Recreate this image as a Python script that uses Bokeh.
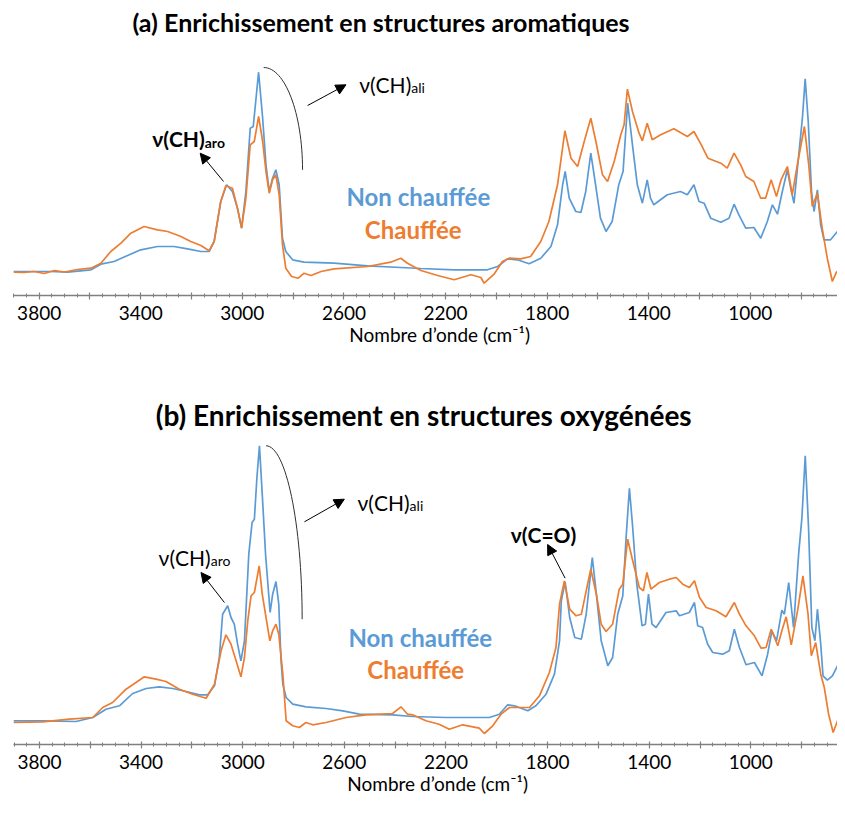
from bokeh.plotting import figure
from bokeh.layouts import column
from bokeh.models import Range1d, FixedTicker, Arrow, NormalHead
from bokeh.core.properties import value
from bokeh.embed import file_html
from bokeh.resources import INLINE

BLUE = "#5B9BD5"
ORANGE = "#ED7D31"
FONT = "Lato"

# ---------------- data: panel (a) ----------------
wn_a_blue = [3901, 3820, 3754, 3688, 3596, 3557, 3505, 3452, 3400, 3334, 3269, 3216, 3163, 3131, 3111, 3085,
             3062, 3039, 3019, 3003, 2986, 2969, 2957, 2936, 2920, 2907, 2894, 2881, 2868, 2855, 2842, 2829,
             2802, 2757, 2639, 2507, 2376, 2297, 2166, 2035, 1995, 1956, 1917, 1871, 1825, 1785, 1759, 1739,
             1729, 1713, 1687, 1667, 1648, 1628, 1615, 1590, 1568, 1544, 1518, 1501, 1483, 1464, 1445, 1425,
             1406, 1393, 1380, 1327, 1275, 1248, 1222, 1202, 1182, 1156, 1116, 1084, 1064, 1045, 1018, 986,
             959, 933, 913, 893, 874, 854, 841, 828, 808, 795, 784, 772, 759, 749, 736, 723, 710, 684, 657, 644]
abs_a_blue = [0.24, 0.24, 0.24, 0.233, 0.257, 0.313, 0.34, 0.40, 0.457, 0.49, 0.49, 0.467, 0.44, 0.44, 0.54, 0.94,
              1.107, 1.04, 0.87, 0.673, 1.04, 1.673, 1.69, 2.233, 1.773, 1.307, 1.04, 1.173, 1.257, 1.107, 0.573, 0.44,
              0.357, 0.333, 0.323, 0.297, 0.28, 0.27, 0.257, 0.257, 0.29, 0.367, 0.357, 0.317, 0.373, 0.49, 0.707, 1.107,
              1.24, 0.973, 0.84, 0.83, 1.04, 1.423, 1.207, 0.773, 0.64, 0.74, 1.107, 1.24, 1.923, 1.507, 1.107, 0.923,
              1.157, 0.973, 0.907, 1.007, 1.04, 1.007, 1.107, 0.94, 0.923, 0.773, 0.733, 0.773, 0.913, 0.807, 0.673, 0.68,
              0.573, 0.74, 0.907, 0.813, 1.04, 1.257, 1.073, 0.923, 1.44, 1.773, 2.167, 1.74, 1.04, 0.84, 1.057, 0.707,
              0.557, 0.557, 0.64, 0.557]

wn_a_orange = [3901, 3860, 3820, 3780, 3740, 3700, 3650, 3596, 3557, 3518, 3478, 3439, 3387, 3334, 3294, 3242,
               3203, 3163, 3131, 3111, 3085, 3065, 3039, 3019, 3003, 2986, 2969, 2953, 2936, 2920, 2907, 2894,
               2881, 2868, 2855, 2842, 2829, 2806, 2780, 2757, 2730, 2690, 2639, 2507, 2416, 2376, 2350, 2297,
               2231, 2166, 2100, 2061, 2048, 2009, 1976, 1950, 1904, 1865, 1825, 1793, 1759, 1730, 1706, 1680,
               1654, 1628, 1608, 1582, 1562, 1536, 1510, 1497, 1484, 1464, 1438, 1425, 1406, 1386, 1353, 1301,
               1248, 1222, 1193, 1167, 1116, 1091, 1064, 1038, 1018, 986, 959, 940, 918, 897, 879, 854,
               835, 815, 787, 770, 756, 736, 717, 697, 677, 660, 644]
abs_a_orange = [0.233, 0.23, 0.24, 0.22, 0.25, 0.235, 0.26, 0.273, 0.323, 0.44, 0.523, 0.623, 0.69, 0.657, 0.64, 0.59,
                0.54, 0.50, 0.447, 0.54, 0.94, 1.097, 1.073, 0.87, 0.673, 0.973, 1.507, 1.54, 1.79, 1.54, 1.24, 1.023,
                1.157, 1.207, 1.007, 0.507, 0.273, 0.19, 0.173, 0.223, 0.20, 0.24, 0.267, 0.29, 0.333, 0.373, 0.323, 0.25,
                0.20, 0.157, 0.207, 0.18, 0.123, 0.213, 0.34, 0.373, 0.367, 0.39, 0.54, 0.74, 1.107, 1.647, 1.373, 1.29,
                1.54, 1.773, 1.54, 1.207, 1.14, 1.34, 1.607, 1.707, 2.063, 1.84, 1.623, 1.547, 1.723, 1.557, 1.607, 1.667,
                1.59, 1.64, 1.507, 1.373, 1.323, 1.273, 1.423, 1.307, 1.19, 1.14, 0.973, 0.973, 1.157, 0.99, 1.157, 1.29,
                1.007, 1.307, 1.69, 1.307, 0.89, 1.023, 0.673, 0.373, 0.14, 0.24, 0.173]

# ---------------- data: panel (b) ----------------
wn_b_blue = [3902, 3787, 3656, 3590, 3538, 3485, 3433, 3380, 3328, 3275, 3223, 3170, 3138, 3111, 3092, 3079,
             3059, 3046, 3033, 3020, 3007, 2993, 2976, 2963, 2954, 2944, 2934, 2923, 2910, 2892, 2882, 2869,
             2858, 2849, 2842, 2829, 2803, 2751, 2672, 2606, 2541, 2410, 2331, 2200, 2029, 1990, 1957, 1930,
             1878, 1846, 1806, 1773, 1753, 1746, 1731, 1713, 1693, 1667, 1648, 1624, 1608, 1589, 1563, 1544,
             1524, 1504, 1491, 1478, 1465, 1449, 1428, 1415, 1403, 1389, 1373, 1334, 1294, 1281, 1242, 1222,
             1209, 1190, 1170, 1150, 1111, 1085, 1065, 1045, 1019, 986, 956, 934, 917, 899, 878, 868,
             851, 832, 812, 799, 786, 773, 760, 748, 738, 725, 716, 699, 679, 659]
abs_b_blue = [0.237, 0.237, 0.23, 0.27, 0.353, 0.387, 0.51, 0.56, 0.577, 0.56, 0.53, 0.497, 0.497, 0.587, 0.87, 1.303,
              1.387, 1.27, 1.203, 1.003, 0.837, 1.037, 1.903, 2.22, 2.253, 2.67, 2.987, 2.503, 1.903, 1.32, 1.503, 1.63,
              1.403, 0.837, 0.603, 0.47, 0.403, 0.377, 0.36, 0.337, 0.303, 0.297, 0.28, 0.27, 0.27, 0.303, 0.397, 0.387,
              0.337, 0.387, 0.503, 0.703, 1.037, 1.437, 1.627, 1.27, 1.07, 1.053, 1.303, 1.87, 1.503, 1.037, 0.787, 0.87,
              1.303, 1.487, 2.07, 2.563, 2.17, 1.603, 1.187, 1.203, 1.503, 1.203, 1.17, 1.32, 1.337, 1.287, 1.32, 1.42,
              1.187, 1.17, 1.003, 0.92, 0.903, 0.937, 1.153, 0.97, 0.797, 0.82, 0.687, 0.903, 1.137, 1.037, 1.343, 1.303,
              1.62, 1.17, 1.903, 2.27, 2.887, 2.17, 1.17, 1.037, 1.353, 1.003, 0.687, 0.643, 0.687, 0.787]

wn_b_orange = [3902, 3787, 3682, 3590, 3551, 3512, 3459, 3420, 3387, 3341, 3302, 3249, 3197, 3144, 3111, 3085,
               3066, 3046, 3026, 3007, 2993, 2980, 2967, 2954, 2935, 2923, 2906, 2893, 2882, 2869, 2858, 2842,
               2829, 2803, 2777, 2751, 2724, 2672, 2593, 2515, 2410, 2377, 2351, 2331, 2279, 2227, 2187, 2134,
               2069, 2049, 2016, 1983, 1950, 1911, 1871, 1832, 1793, 1767, 1753, 1734, 1713, 1688, 1667, 1648,
               1630, 1608, 1589, 1570, 1544, 1518, 1504, 1485, 1465, 1439, 1423, 1409, 1393, 1360, 1321, 1294,
               1268, 1242, 1222, 1202, 1176, 1137, 1098, 1065, 1045, 1019, 986, 960, 940, 920, 894, 878,
               861, 841, 815, 795, 775, 762, 745, 725, 711, 694, 676, 659]
abs_b_orange = [0.22, 0.227, 0.253, 0.27, 0.37, 0.42, 0.553, 0.62, 0.677, 0.653, 0.63, 0.553, 0.503, 0.463, 0.603, 0.937,
                1.097, 1.003, 0.837, 0.677, 0.87, 1.237, 1.487, 1.52, 1.787, 1.503, 1.237, 1.037, 1.137, 1.203, 1.103, 0.703,
                0.237, 0.187, 0.17, 0.22, 0.197, 0.22, 0.27, 0.297, 0.31, 0.377, 0.303, 0.297, 0.237, 0.203, 0.153, 0.197,
                0.163, 0.11, 0.187, 0.303, 0.37, 0.37, 0.37, 0.487, 0.72, 0.97, 1.403, 1.637, 1.353, 1.287, 1.303, 1.537,
                1.753, 1.503, 1.203, 1.13, 1.203, 1.553, 1.603, 2.053, 1.837, 1.57, 1.537, 1.72, 1.553, 1.62, 1.653, 1.67,
                1.603, 1.57, 1.637, 1.47, 1.37, 1.337, 1.277, 1.42, 1.303, 1.187, 1.087, 0.963, 0.97, 1.153, 0.987, 1.137,
                1.277, 0.997, 1.353, 1.687, 1.303, 0.887, 1.02, 0.703, 0.57, 0.303, 0.12, 0.237]

# ---------------- axis ticks ----------------
major_ticks = [3800, 3600, 3400, 3200, 3000, 2800, 2600, 2400, 2200, 2000, 1800, 1600, 1400, 1200, 1000, 800]
tick_labels = ["3800", "", "3400", "", "3000", "", "2600", "", "2200", "", "1800", "", "1400", "", "1000", ""]
minor_ticks = list(range(3900, 649, -50))

TITLE_A = "(a) Enrichissement en structures aromatiques"
TITLE_B = "(b) Enrichissement en structures oxygénées"
XLABEL = "\u00a0\u00a0\u00a0\u00a0\u00a0Nombre d\u2019onde (cm\u207b\u00b9)"
SERIES = ["Non chauffée", "Chauffée"]


def make_fig(x_start, x_end, frame_w, frame_h, y_top, b_left, b_right, b_bottom):
    p = figure(frame_width=frame_w, frame_height=frame_h,
               x_range=Range1d(x_start, x_end), y_range=Range1d(0, y_top),
               output_backend="svg", toolbar_location=None, y_axis_location=None,
               min_border_left=b_left, min_border_right=b_right,
               min_border_top=0, min_border_bottom=b_bottom)
    p.outline_line_color = None
    p.xgrid.visible = False
    p.ygrid.visible = False
    p.background_fill_color = "white"
    ax = p.xaxis[0]
    ax.ticker = FixedTicker(ticks=major_ticks, minor_ticks=minor_ticks)
    ax.major_label_overrides = {t: lab for t, lab in zip(major_ticks, tick_labels)}
    ax.axis_line_color = "#808080"
    ax.axis_line_width = 1.5
    ax.major_tick_line_color = "#808080"
    ax.minor_tick_line_color = "#808080"
    ax.major_tick_line_width = 1.2
    ax.minor_tick_line_width = 1
    ax.major_tick_in = 3
    ax.major_tick_out = 4
    ax.minor_tick_in = 2
    ax.minor_tick_out = 2
    ax.major_label_standoff = 6
    ax.major_label_text_font = FONT
    ax.major_label_text_font_size = "19px"
    ax.major_label_text_color = "black"
    ax.axis_label = XLABEL
    ax.axis_label_text_font = FONT
    ax.axis_label_text_font_size = "19px"
    ax.axis_label_text_font_style = "normal"
    ax.axis_label_text_color = "black"
    ax.axis_label_standoff = 0
    return p


def add_label(p, x, y_main, y_sub, main, sub, bold):
    style = "bold" if bold else "normal"
    p.text(x=[x], y=[y_main], text=[main], text_font=value(FONT), text_font_size="21px",
           text_font_style=style, text_align="right", text_baseline="alphabetic", text_color="black")
    p.text(x=[x], y=[y_sub], text=[sub], text_font=value(FONT), text_font_size="14px",
           text_font_style=style, text_align="left", text_baseline="alphabetic", text_color="black")


def add_arrow(p, xs, ys, xe, ye):
    p.add_layout(Arrow(end=NormalHead(size=10, fill_color="black", line_color="black", line_width=1),
                       x_start=xs, y_start=ys, x_end=xe, y_end=ye,
                       line_color="black", line_width=1))


def add_series_text(p, pos_non, pos_ch):
    p.text(x=[pos_non[0]], y=[pos_non[1]], text=[SERIES[0]], text_font=value(FONT), text_font_size="24px",
           text_font_style="bold", text_align="center", text_baseline="alphabetic", text_color=BLUE)
    p.text(x=[pos_ch[0]], y=[pos_ch[1]], text=[SERIES[1]], text_font=value(FONT), text_font_size="24px",
           text_font_style="bold", text_align="center", text_baseline="alphabetic", text_color=ORANGE)


# ---------------- panel (a) ----------------
pa = make_fig(3901, 641, 828, 295, 2.95, 4, 5, 60)
pa.line(wn_a_blue, abs_a_blue, line_color=BLUE, line_width=1.7)
pa.line(wn_a_orange, abs_a_orange, line_color=ORANGE, line_width=1.7)
pa.text(x=[2454], y=[2.74], text=[TITLE_A], text_font=value(FONT), text_font_size="25px",
        text_font_style="bold", text_align="center", text_baseline="alphabetic", text_color="black")
add_label(pa, 3148, 1.567, 1.535, "\u03bd(CH)", "aro", True)
add_arrow(pa, 3074, 1.14, 3166, 1.423)
pa.bezier(x0=[2916], y0=[2.28], x1=[2763], y1=[1.257], cx0=[2832], cy0=[2.28], cx1=[2763], cy1=[1.822],
          line_color="#303030", line_width=1)
add_arrow(pa, 2743, 1.90, 2592, 2.107)
add_label(pa, 2335, 2.11, 2.08, "\u03bd(CH)", "ali", False)
add_series_text(pa, (2307, 0.99), (2327, 0.66))

# ---------------- panel (b) ----------------
pb = make_fig(3902, 659, 824, 389, 3.89, 13, 0, 54)
pb.line(wn_b_blue, abs_b_blue, line_color=BLUE, line_width=1.7)
pb.line(wn_b_orange, abs_b_orange, line_color=ORANGE, line_width=1.7)
pb.text(x=[3342], y=[3.30], text=[TITLE_B], text_font=value(FONT), text_font_size="28px",
        text_font_style="bold", text_align="left", text_baseline="alphabetic", text_color="black")
add_label(pb, 3126, 1.87, 1.84, "\u03bd(CH)", "aro", False)
add_arrow(pb, 3072, 1.42, 3164, 1.72)
pb.bezier(x0=[2908], y0=[2.987], x1=[2766], y1=[1.253], cx0=[2830], cy0=[2.987], cx1=[2766], cy1=[2.21],
          line_color="#303030", line_width=1)
add_arrow(pb, 2757, 2.227, 2600, 2.453)
add_label(pb, 2343, 2.42, 2.39, "\u03bd(CH)", "ali", False)
pb.text(x=[1816], y=[2.10], text=["\u03bd(C=O)"], text_font=value(FONT), text_font_size="21px",
        text_font_style="bold", text_align="center", text_baseline="alphabetic", text_color="black")
add_arrow(pb, 1731, 1.663, 1800, 2.00)
add_series_text(pb, (2301, 1.07), (2319, 0.753))

layout = column(pa, pb, spacing=0)
open("out.html", "w").write(file_html(layout, INLINE))
